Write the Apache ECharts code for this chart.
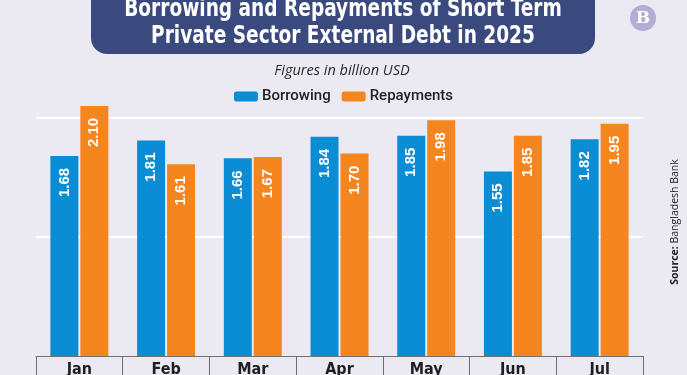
<!DOCTYPE html>
<html>
<head>
<meta charset="utf-8">
<script src="https://cdn.jsdelivr.net/npm/echarts@6.0.0/dist/echarts.min.js"></script>
<style>
  html, body { margin: 0; padding: 0; background: #ebeaf3; }
  #chart { width: 687px; height: 375px; }
</style>
</head>
<body>
<div id="chart"></div>
<script>
var months = ['Jan', 'Feb', 'Mar', 'Apr', 'May', 'Jun', 'Jul'];
var borrowing = [1.68, 1.81, 1.66, 1.84, 1.85, 1.55, 1.82];
var repayments = [2.10, 1.61, 1.67, 1.70, 1.98, 1.85, 1.95];
var yTicks = [0, 1, 2];

var narrow = '"Liberation Sans Narrow", "DejaVu Sans Condensed", sans-serif';

var myChart = echarts.init(document.getElementById('chart'));

function barLabel() {
    return {
        show: true,
        position: 'insideTop',
        rotate: 90,
        align: 'right',
        verticalAlign: 'middle',
        distance: 12,
        color: '#ffffff',
        fontFamily: '"Liberation Sans", sans-serif',
        fontWeight: 'bold',
        fontSize: 15,
        formatter: function (p) { return p.value.toFixed(2); }
    };
}

var option = {
    backgroundColor: '#ebeaf3',
    animation: false,
    graphic: [
        {
            type: 'rect',
            shape: { x: 91, y: -30, width: 504, height: 84, r: 16 },
            style: { fill: '#3b4a7e' }
        },
        {
            type: 'text',
            x: 343, y: 9,
            scaleX: 0.825,
            style: {
                text: 'Borrowing and Repayments of Short Term',
                fill: '#ffffff',
                font: 'bold 25px ' + narrow,
                align: 'center',
                verticalAlign: 'middle'
            }
        },
        {
            type: 'text',
            x: 343, y: 36,
            scaleX: 0.825,
            style: {
                text: 'Private Sector External Debt in 2025',
                fill: '#ffffff',
                font: 'bold 25px ' + narrow,
                align: 'center',
                verticalAlign: 'middle'
            }
        },
        {
            type: 'text',
            x: 342, y: 71,
            style: {
                text: 'Figures in billion USD',
                fill: '#2a2a2a',
                font: 'italic 14.5px "Open Sans", sans-serif',
                align: 'center',
                verticalAlign: 'middle'
            }
        },
        {
            type: 'circle',
            shape: { cx: 643, cy: 18, r: 13 },
            style: { fill: '#b1add4' }
        },
        {
            type: 'text',
            x: 643, y: 19,
            style: {
                text: 'B',
                fill: '#ffffff',
                font: 'bold 17px "DejaVu Serif", serif',
                align: 'center',
                verticalAlign: 'middle'
            }
        },
        {
            type: 'text',
            x: 675, y: 222,
            rotation: Math.PI / 2,
            style: {
                text: '{b|Source:} Bangladesh Bank',
                rich: {
                    b: { fontWeight: 'bold', fontSize: 10.5, fontFamily: '"Open Sans", sans-serif', fill: '#222' }
                },
                fill: '#222',
                font: '10.5px "Open Sans", sans-serif',
                align: 'center',
                verticalAlign: 'middle'
            }
        }
    ],
    legend: {
        top: 84,
        left: 'center',
        itemWidth: 24,
        itemHeight: 10,
        itemGap: 11,
        icon: 'roundRect',
        textStyle: {
            color: '#222',
            fontFamily: 'Roboto, sans-serif',
            fontWeight: 500,
            fontSize: 15,
            padding: [0, 0, 0, -1]
        },
        data: ['Borrowing', 'Repayments']
    },
    grid: {
        left: 36,
        right: 44,
        top: 94,
        bottom: 19,
        containLabel: false,
        outerBoundsMode: 'none'
    },
    xAxis: {
        type: 'category',
        data: months,
        axisLine: { show: true, lineStyle: { color: '#6e6e6e', width: 1 } },
        axisTick: { show: true, length: 40, lineStyle: { color: '#6e6e6e', width: 1 } },
        axisLabel: {
            color: '#1e1e1e',
            fontFamily: narrow,
            fontWeight: 'bold',
            fontSize: 16,
            margin: 6
        }
    },
    yAxis: {
        type: 'value',
        min: yTicks[0],
        max: 2.2,
        interval: yTicks[1] - yTicks[0],
        axisLabel: { show: false },
        axisLine: { show: false },
        axisTick: { show: false },
        splitLine: {
            show: true,
            showMinLine: false,
            showMaxLine: false,
            lineStyle: { color: '#ffffff', width: 2 }
        }
    },
    series: [
        {
            name: 'Borrowing',
            type: 'bar',
            data: borrowing,
            barWidth: 28,
            barGap: '7%',
            itemStyle: { color: '#0a8dd4' },
            label: barLabel()
        },
        {
            name: 'Repayments',
            type: 'bar',
            data: repayments,
            barWidth: 28,
            itemStyle: { color: '#f5861f' },
            label: barLabel()
        }
    ]
};

myChart.setOption(option);
</script>
</body>
</html>
